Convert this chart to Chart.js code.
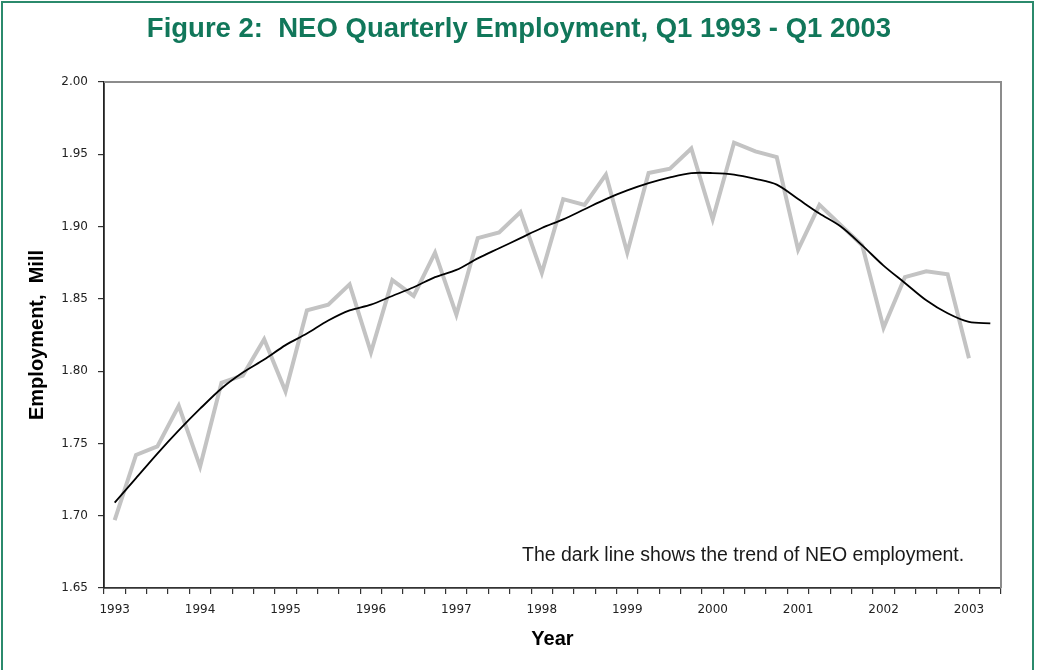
<!DOCTYPE html>
<html lang="en">
<head>
<meta charset="UTF-8">
<title>NEO Quarterly Employment</title>
<style>
  body { margin: 0; background: #fff; }
  canvas { display: block; }
</style>
</head>
<body>
<canvas id="myChart" width="1038" height="670"></canvas>

<script src="https://cdn.jsdelivr.net/npm/chart.js"></script>
<script>
// quarters Q1 1993 .. Q2 2003
var years = ['1993', '1994', '1995', '1996', '1997', '1998', '1999', '2000', '2001', '2002', '2003'];
var quarters = [];
for (let y of years) {
    for (let q = 1; q <= 4; q++) quarters.push(y + ' Q' + q);
}
quarters = quarters.slice(0, 42);

// quarterly employment, millions (grey line)
var employment = [
    1.697, 1.742, 1.748, 1.776,
    1.734, 1.792, 1.797, 1.822,
    1.786, 1.842, 1.846, 1.860,
    1.813, 1.863, 1.852, 1.882,
    1.839, 1.892, 1.896, 1.910,
    1.868, 1.919, 1.915, 1.936,
    1.882, 1.937, 1.940, 1.954,
    1.905, 1.958, 1.952, 1.948,
    1.884, 1.915, 1.901, 1.887,
    1.830, 1.865, 1.869, 1.867,
    1.809, null
];

// trend (dark line)
var trend = [
    1.709, 1.726, 1.743, 1.759,
    1.774, 1.788, 1.799, 1.808,
    1.818, 1.826, 1.835, 1.842,
    1.846, 1.852, 1.858, 1.865,
    1.870, 1.878, 1.885, 1.892,
    1.899, 1.905, 1.912, 1.919,
    1.925, 1.930, 1.934, 1.937,
    1.937, 1.936, 1.933, 1.929,
    1.919, 1.909, 1.900, 1.887,
    1.873, 1.861, 1.849, 1.840,
    1.834, 1.833
];

var yTicks = [1.65, 1.70, 1.75, 1.80, 1.85, 1.90, 1.95, 2.00];

const tickFont = { family: 'DejaVu Sans', size: 12 };
const titleFont = { family: 'Liberation Sans, Arial', size: 20, weight: 'bold' };

// green frame, grey top/right border and the note
const extras = {
    id: 'extras',
    beforeDraw(chart) {
        const c = chart.ctx;
        c.save();
        c.fillStyle = '#fff';
        c.fillRect(0, 0, chart.width, chart.height);
        c.strokeStyle = '#2b8a6c';
        c.lineWidth = 2;
        c.beginPath();
        c.moveTo(2, 700);
        c.lineTo(2, 2);
        c.lineTo(1033, 2);
        c.lineTo(1033, 700);
        c.stroke();
        c.restore();
    },
    beforeDatasetsDraw(chart) {
        const a = chart.chartArea;
        const c = chart.ctx;
        c.save();
        c.strokeStyle = '#8c8c8c';
        c.lineWidth = 2;
        c.beginPath();
        c.moveTo(a.left, a.top);
        c.lineTo(a.right, a.top);
        c.lineTo(a.right, a.bottom);
        c.stroke();
        c.fillStyle = '#1a1a1a';
        c.font = '19.5px "Liberation Sans", Arial';
        c.textBaseline = 'middle';
        c.fillText('The dark line shows the trend of NEO employment.', 522, 556);
        c.restore();
    }
};

new Chart(document.getElementById('myChart'), {
    type: 'line',
    data: {
        labels: quarters,
        datasets: [{
            label: 'Trend',
            data: trend,
            borderColor: '#000',
            borderWidth: 1.8,
            pointRadius: 0,
            tension: 0.3
        }, {
            label: 'Employment',
            data: employment,
            borderColor: '#c3c3c3',
            borderWidth: 4,
            pointRadius: 0,
            tension: 0
        }]
    },
    options: {
        responsive: false,
        animation: false,
        layout: { padding: 0 },
        plugins: {
            legend: { display: false },
            tooltip: { enabled: false },
            title: {
                display: true,
                text: 'Figure 2:  NEO Quarterly Employment, Q1 1993 - Q1 2003',
                color: '#11775a',
                font: { family: 'Liberation Sans, Arial', size: 27.5, weight: 'bold' },
                padding: { top: 12.5, bottom: 36.5 }
            }
        },
        scales: {
            x: {
                offset: true,
                afterFit(s) { s.height = 82; },
                grid: { offset: true, drawOnChartArea: false, tickLength: 6, color: '#333', lineWidth: 1.2 },
                border: { color: '#333', width: 1.8 },
                ticks: {
                    autoSkip: false,
                    maxRotation: 0,
                    padding: 9,
                    color: '#222',
                    font: tickFont,
                    callback: function (v, i) { return i % 4 === 0 ? quarters[i].slice(0, 4) : ''; }
                },
                title: { display: true, text: 'Year', color: '#000', font: titleFont, padding: { top: 0, bottom: 19 } }
            },
            y: {
                min: 1.65,
                max: 2.0,
                afterFit(s) { s.width = 104; },
                afterBuildTicks(s) { s.ticks = yTicks.map(v => ({ value: v })); },
                grid: { drawOnChartArea: false, tickLength: 6, color: '#333', lineWidth: 1.2 },
                border: { color: '#222', width: 1.8 },
                ticks: {
                    padding: 10,
                    color: '#222',
                    font: tickFont,
                    callback: v => v.toFixed(2)
                },
                title: { display: true, text: 'Employment,  Mill', color: '#000', font: titleFont, padding: { top: 25, bottom: 0 } }
            },
            // empty right-hand margin so the title stays centred on the page
            yRight: {
                position: 'right',
                min: 1.65,
                max: 2.0,
                afterFit(s) { s.width = 37; },
                grid: { display: false },
                border: { display: false },
                ticks: { display: false }
            }
        }
    },
    plugins: [extras]
});
</script>
</body>
</html>
